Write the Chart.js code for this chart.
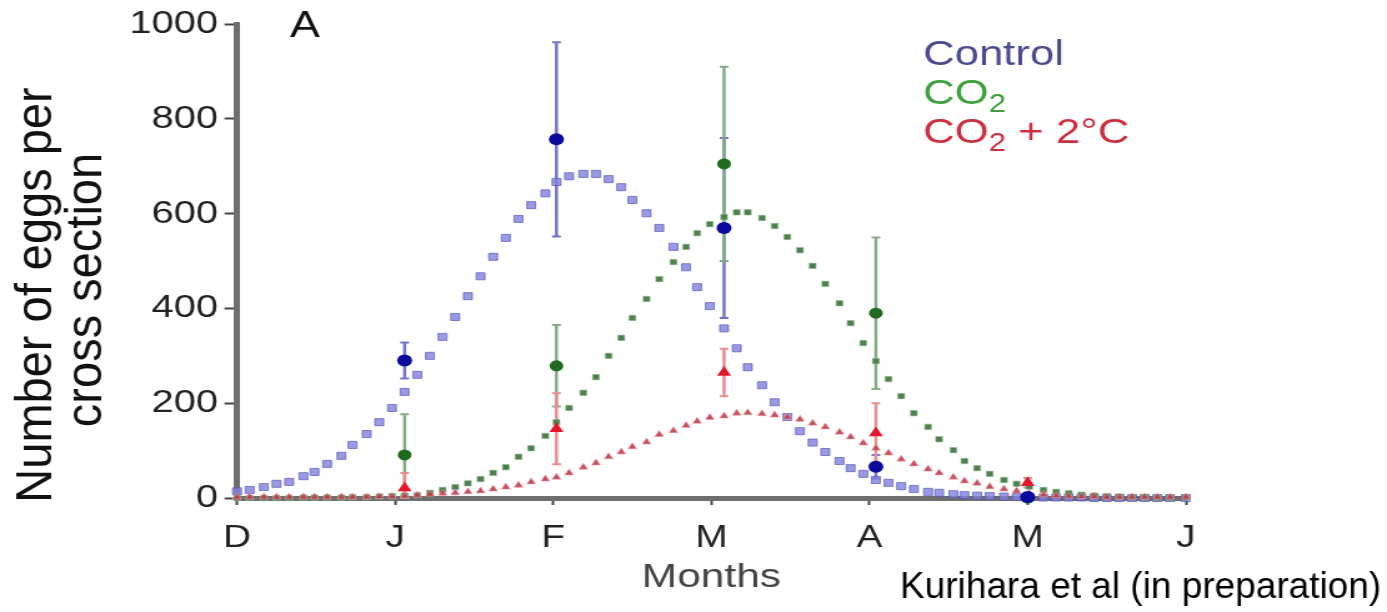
<!DOCTYPE html>
<html>
<head>
<meta charset="utf-8">
<script src="https://cdn.jsdelivr.net/npm/chart.js@4"></script>
<style>
  html, body { margin: 0; padding: 0; background: #fff; }
</style>
</head>
<body>
<!-- the source figure is stretched sideways, so the canvas is drawn narrower and widened by css -->
<canvas id="chart" width="1110" height="612" style="width:1387px;height:612px;display:block"></canvas>
<script>
const monthLabels = ["D", "J", "F", "M", "A", "M", "J"];

// sampled means with error bars
const sampleMonths = [1.06, 2.02, 3.08, 4.04, 5.0];
const control = [290, 757, 570, 66, 2];
const controlErr = [38, 205, 190, 25, 0];
const co2 = [91, 279, 705, 390, 0];
const co2Err = [86, 86, 205, 160, 0];
const co2Temp = [21, 146, 265, 137, 32];
const co2TempErr = [32, 75, 50, 63, 10];

// fitted (dotted) curves
const curveMonths = [
  0.00, 0.08, 0.17, 0.25, 0.33, 0.42, 0.49, 0.57, 0.66, 0.73, 0.82, 0.90, 0.98,
  1.06, 1.14, 1.22, 1.30, 1.38, 1.46, 1.54, 1.62, 1.70, 1.78, 1.86, 1.95,
  2.02, 2.10, 2.19, 2.27, 2.35, 2.43, 2.50, 2.59, 2.67, 2.76, 2.84, 2.91, 2.99,
  3.08, 3.16, 3.23, 3.32, 3.40, 3.48, 3.56, 3.64, 3.72, 3.81, 3.88, 3.96,
  4.04, 4.12, 4.20, 4.28, 4.37, 4.44, 4.53, 4.60, 4.68, 4.76, 4.85, 4.93,
  5.01, 5.10, 5.18, 5.26, 5.34, 5.42, 5.50, 5.58, 5.66, 5.74, 5.82, 5.90, 6.00
];
const controlCurve = [
  14, 17, 23, 30, 34, 46, 55, 72, 89, 112, 135, 160, 190,
  224, 260, 300, 340, 382, 426, 468, 509, 549, 589, 618, 643,
  667, 679, 684, 684, 673, 656, 629, 601, 570, 530, 487, 445, 405,
  358, 316, 276, 238, 202, 171, 141, 117, 97, 78, 63, 51,
  38, 32, 25, 19, 13, 11, 8, 6, 5, 4, 3, 2,
  2, 1, 1, 1, 1, 0, 0, 0, 0, 0, 0, 0, 0
];
const co2Curve = [
  0, 0, 0, 0, 0, 1, 1, 1, 1, 2, 2, 3, 4,
  5, 6, 11, 17, 23, 31, 40, 53, 65, 87, 105, 131,
  160, 190, 222, 255, 300, 338, 380, 420, 462, 498, 530, 559, 578,
  593, 603, 603, 591, 574, 551, 523, 490, 452, 411, 369, 327,
  289, 251, 215, 179, 150, 124, 101, 78, 63, 51, 38, 30,
  24, 17, 13, 10, 7, 5, 4, 3, 2, 2, 1, 1, 1
];
const co2TempCurve = [
  2, 2, 2, 2, 2, 2, 2, 2, 2, 2, 2, 3, 3,
  4, 6, 8, 10, 11, 13, 15, 19, 23, 27, 34, 40,
  44, 53, 65, 74, 87, 97, 108, 118, 134, 142, 153, 162, 170,
  173, 179, 180, 178, 175, 171, 166, 158, 150, 139, 129, 116,
  105, 95, 82, 72, 61, 53, 44, 36, 31, 24, 19, 15,
  10, 7, 5, 4, 3, 3, 2, 2, 2, 2, 2, 2, 2
];

const S = 1387 / 1110; // horizontal stretch of the page
const FONT = "Arial, 'Liberation Sans', sans-serif";

function points(xs, ys) {
  return xs.map((x, i) => ({ x: x, y: ys[i] }));
}

function chem(ctx, x, y, parts, size, color) {
  ctx.fillStyle = color;
  ctx.textAlign = "left";
  ctx.textBaseline = "alphabetic";
  for (const [txt, sub] of parts) {
    ctx.font = (sub ? Math.round(size * 0.7) : size) + "px " + FONT;
    ctx.fillText(txt, x, sub ? y + 8 : y);
    x += ctx.measureText(txt).width;
  }
}

const errorBars = {
  id: "errorBars",
  beforeDatasetsDraw(chart) {
    const { ctx, scales: { x, y } } = chart;
    const sets = [
      [control, controlErr, "#7474c8"],
      [co2, co2Err, "#84ab84"],
      [co2Temp, co2TempErr, "#e88e8e"]
    ];
    ctx.save();
    for (const [vals, errs, color] of sets) {
      ctx.strokeStyle = color;
      sampleMonths.forEach((m, i) => {
        if (!errs[i]) return;
        const px = x.getPixelForValue(m);
        const top = y.getPixelForValue(vals[i] + errs[i]);
        const bot = y.getPixelForValue(Math.max(0, vals[i] - errs[i]));
        ctx.lineWidth = 2.5;
        ctx.beginPath();
        ctx.moveTo(px, top);
        ctx.lineTo(px, bot);
        ctx.stroke();
        ctx.lineWidth = 2;
        ctx.beginPath();
        ctx.moveTo(px - 3.5, top);
        ctx.lineTo(px + 3.5, top);
        ctx.moveTo(px - 3.5, bot);
        ctx.lineTo(px + 3.5, bot);
        ctx.stroke();
      });
    }
    ctx.restore();
  }
};

function verticalText(ctx, text, x, y) {
  ctx.save();
  ctx.translate(x, y);
  ctx.scale(0.85, 1);
  ctx.rotate(-Math.PI / 2);
  ctx.fillText(text, 0, 0);
  ctx.restore();
}

const labels = {
  id: "labels",
  afterDraw(chart) {
    const ctx = chart.ctx;
    ctx.save();

    // y axis title, two lines
    ctx.fillStyle = "#111";
    ctx.font = "47px " + FONT;
    ctx.textAlign = "center";
    ctx.textBaseline = "alphabetic";
    verticalText(ctx, "Number of eggs per", 51 / S, 295);
    verticalText(ctx, "cross section", 101 / S, 290);

    // panel letter
    ctx.font = "36px " + FONT;
    ctx.textAlign = "left";
    ctx.fillStyle = "#111";
    ctx.fillText("A", 290 / S, 37);

    // legend
    chem(ctx, 923 / S, 65, [["Control", false]], 35, "#4a4a8e");
    chem(ctx, 923 / S, 104, [["CO", false], ["2", true]], 35, "#3fa03f");
    chem(ctx, 923 / S, 143, [["CO", false], ["2", true], [" + 2\u00b0C", false]], 35, "#cc2f3f");

    // source note (not stretched in the original)
    ctx.save();
    ctx.translate(900 / S, 598);
    ctx.scale(1 / S, 1);
    ctx.font = "37px " + FONT;
    ctx.fillStyle = "#000";
    ctx.fillText("Kurihara et al (in preparation)", 0, 0);
    ctx.restore();

    ctx.restore();
  }
};

new Chart(document.getElementById("chart"), {
  type: "scatter",
  data: {
    datasets: [
      {
        label: "Control",
        data: points(sampleMonths, control),
        pointStyle: "circle",
        pointRadius: 6,
        backgroundColor: "#0a0a9c",
        borderWidth: 0,
        clip: false
      },
      {
        label: "CO2",
        data: points(sampleMonths, co2),
        pointStyle: "circle",
        pointRadius: 5.5,
        backgroundColor: "#1f6a1f",
        borderWidth: 0,
        clip: false
      },
      {
        label: "CO2 + 2°C",
        data: points(sampleMonths, co2Temp),
        pointStyle: "triangle",
        pointRadius: 6.5,
        backgroundColor: "#e3162a",
        borderWidth: 0,
        clip: false
      },
      {
        label: "CO2 + 2°C fit",
        data: points(curveMonths, co2TempCurve),
        pointStyle: "triangle",
        pointRadius: 4,
        backgroundColor: "rgba(186,62,76,0.9)",
        borderColor: "rgba(240,150,160,0.6)",
        borderWidth: 1,
        clip: false
      },
      {
        label: "CO2 fit",
        data: points(curveMonths, co2Curve),
        pointStyle: "rect",
        pointRadius: 3.8,
        backgroundColor: "#4e7f4e",
        borderColor: "rgba(140,180,140,0.6)",
        borderWidth: 1,
        clip: false
      },
      {
        label: "Control fit",
        data: points(curveMonths, controlCurve),
        pointStyle: "rect",
        pointRadius: 5,
        backgroundColor: "rgba(128,128,222,0.8)",
        borderColor: "rgba(90,90,180,0.7)",
        borderWidth: 1,
        clip: false
      }
    ]
  },
  options: {
    responsive: false,
    animation: false,
    devicePixelRatio: 1,
    layout: { padding: { top: 24, right: 161, left: 0, bottom: 0 } },
    plugins: { legend: { display: false }, tooltip: { enabled: false } },
    scales: {
      x: {
        min: 0,
        max: 6,
        afterFit: (s) => { s.height = 114; },
        border: { display: true, color: "#6e6e6e", width: 5 },
        grid: { drawOnChartArea: false, drawTicks: true, tickLength: 7, tickColor: "#444", tickWidth: 2 },
        ticks: {
          stepSize: 1,
          padding: 15,
          color: "#222",
          font: { family: FONT, size: 31 },
          callback: (v) => monthLabels[v]
        },
        title: {
          display: true,
          text: "Months",
          color: "#444",
          font: { family: FONT, size: 34 },
          padding: { top: 0, bottom: 14 }
        }
      },
      y: {
        min: 0,
        max: 1000,
        afterFit: (s) => { s.width = 237 / S; },
        border: { display: true, color: "#6e6e6e", width: 5 },
        grid: { drawOnChartArea: false, drawTicks: true, tickLength: 10, tickColor: "#444", tickWidth: 2 },
        ticks: {
          stepSize: 200,
          padding: 5,
          color: "#222",
          font: { family: FONT, size: 32 },
          callback: (v) => String(v)
        }
      }
    }
  },
  plugins: [errorBars, labels]
});
</script>
</body>
</html>
